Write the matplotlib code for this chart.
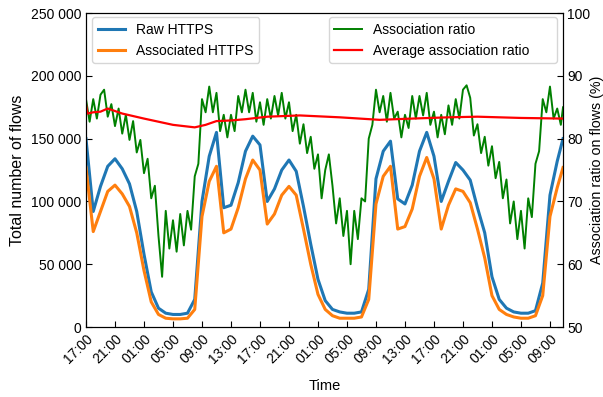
import matplotlib
matplotlib.use("Agg")
import matplotlib.pyplot as plt
from matplotlib.ticker import FuncFormatter

# ---- data (hours since 17:00 on day 0) ----
hours_flows = list(range(0, 66)) + [65.8]
raw_https = [150, 92, 112, 128, 134, 126, 114, 92, 58, 28,
             15, 11, 10, 10, 11, 22, 100, 136, 155, 95,
             97, 115, 140, 152, 145, 100, 110, 125, 133, 124,
             96, 66, 38, 21, 14, 12, 11, 11, 12, 30,
             118, 140, 148, 102, 98, 113, 140, 155, 136, 100,
             116, 131, 125, 117, 95, 75, 40, 22, 15, 12,
             11, 11, 13, 35, 105, 132, 150]
assoc_https = [127, 76, 92, 108, 113, 106, 96, 75, 45, 20,
               10, 7, 6.5, 6.5, 7, 14, 88, 116, 128, 75,
               78, 95, 118, 133, 125, 82, 90, 105, 112, 105,
               78, 50, 26, 14, 9, 7, 7, 7, 8, 22,
               98, 120, 128, 78, 80, 94, 120, 135, 118, 78,
               97, 110, 108, 99, 78, 55, 25, 14, 10, 8,
               7, 7, 9, 25, 88, 111, 127]
raw_https = [v * 1000 for v in raw_https]
assoc_https = [v * 1000 for v in assoc_https]

hours_ratio = [i * 0.5 for i in range(132)] + [65.8]
assoc_ratio = [86.3, 82.7, 86.3, 83.2, 87.0, 87.8, 83.5, 85.5, 82.0, 84.8,
               80.8, 83.8, 79.8, 82.8, 77.8, 79.8, 74.5, 76.8, 70.5, 72.5,
               64.5, 58.0, 68.5, 62.5, 67.0, 62.0, 68.0, 63.0, 68.5, 65.5,
               74.0, 76.0, 86.3, 84.2, 88.3, 84.2, 87.3, 81.2, 83.8, 80.2,
               83.8, 81.2, 86.8, 84.2, 87.8, 84.2, 87.3, 82.7, 85.8, 82.2,
               86.3, 83.2, 86.8, 83.7, 87.3, 83.2, 85.8, 81.2, 83.8, 79.2,
               82.3, 77.7, 80.3, 75.2, 77.5, 70.5, 75.0, 77.5, 72.5, 66.5,
               70.5, 64.5, 68.5, 60.0, 68.5, 64.0, 70.5, 70.0, 80.0, 82.2,
               87.8, 84.2, 86.8, 82.7, 87.3, 83.2, 84.3, 80.2, 83.8, 81.7,
               86.8, 83.2, 86.8, 83.7, 87.3, 82.2, 84.3, 80.2, 83.8, 80.7,
               85.3, 82.2, 86.3, 83.2, 87.8, 88.5, 86.5, 80.5, 82.3, 77.7,
               80.3, 75.7, 78.8, 73.7, 76.3, 70.5, 73.5, 66.5, 70.0, 64.0,
               68.5, 62.5, 70.5, 67.5, 76.0, 78.0, 86.3, 84.2, 88.3, 83.2,
               84.8, 82.2, 85.0]

hours_avg = [0, 0.2, 1, 2, 3, 5, 8, 12, 15, 16.5, 18, 20, 22, 25, 29.5,
             35, 40.5, 45, 50, 54, 60, 65.8]
avg_ratio = [85.5, 84, 84.2, 84.3, 84.8, 84, 83.2, 82.2, 81.8, 82.2, 82.8,
             82.9, 83.1, 83.5, 83.7, 83.4, 83.0, 83.2, 83.4, 83.5, 83.3, 83.2]

tick_hours = list(range(0, 65, 4))
tick_labels = ["17:00", "21:00", "01:00", "05:00", "09:00", "13:00",
               "17:00", "21:00", "01:00", "05:00", "09:00", "13:00",
               "17:00", "21:00", "01:00", "05:00", "09:00"]

plt.rcParams['font.family'] = ['Liberation Sans', 'DejaVu Sans']
fig = plt.figure(figsize=(6.03, 3.97), dpi=100)
ax = fig.add_axes([0.1426, 0.1763, 0.7911, 0.7907])
ax2 = ax.twinx()

l1, = ax.plot(hours_flows, raw_https, color="#1f77b4", lw=2.2, label="Raw HTTPS")
l2, = ax.plot(hours_flows, assoc_https, color="#ff7f0e", lw=2.2, label="Associated HTTPS")
l3, = ax2.plot(hours_ratio, assoc_ratio, color="green", lw=1.4, label="Association ratio")
l4, = ax2.plot(hours_avg, avg_ratio, color="red", lw=1.6, label="Average association ratio")

ax.set_xlim(0, 65.8)
ax.set_ylim(0, 250000)
ax2.set_ylim(50, 100)
ax.set_yticks(range(0, 250001, 50000))
ax.yaxis.set_major_formatter(FuncFormatter(lambda v, p: f"{int(v):,}".replace(",", " ")))
ax2.set_yticks(range(50, 101, 10))
ax.set_xticks(tick_hours)
ax.set_xticklabels(tick_labels, rotation=45, ha="right", rotation_mode="anchor")

ax.tick_params(direction="in", labelsize=10, length=4)
ax2.tick_params(direction="in", labelsize=10, length=4, pad=3)

ax.set_ylabel("Total number of flows", fontsize=11.5)
ax2.set_ylabel("Association ratio on flows (%)", fontsize=10.3, labelpad=0)
ax.set_xlabel("Time", fontsize=10.5, labelpad=9)

ax.legend(handles=[l1, l2], loc="upper left", fontsize=10,
          bbox_to_anchor=(0.0126, 0.987), borderaxespad=0)
ax2.legend(handles=[l3, l4], loc="upper left", fontsize=10,
           bbox_to_anchor=(0.509, 0.0, 0.478, 0.987), mode="expand",
           borderaxespad=0)

fig.savefig("out.png", dpi=100)
